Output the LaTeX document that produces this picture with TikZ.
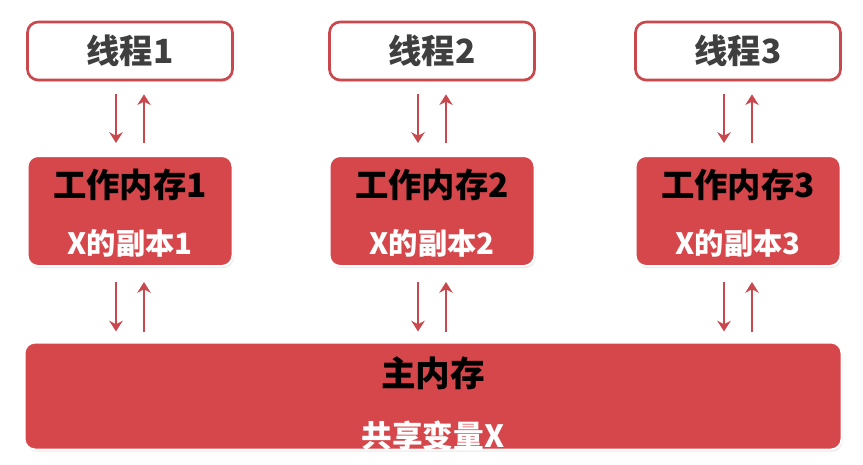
\documentclass[tikz,border=0pt]{standalone}
\usepackage{fontspec}
\setmainfont{Noto Sans CJK SC}
\usetikzlibrary{arrows.meta,shadows}
\definecolor{memred}{HTML}{D6474C}
\definecolor{linered}{HTML}{C8484D}
\definecolor{textgray}{HTML}{3F3F3F}
\tikzset{
  boxshadow/.style={drop shadow={opacity=0.18,shadow xshift=0.8pt,shadow yshift=-1.6pt}},
  threadbox/.style={draw=linered,line width=2pt,fill=white,rounded corners=8pt,minimum width=153.75pt,minimum height=43.5pt,boxshadow},
  membox/.style={draw=white,line width=1.5pt,fill=memred,rounded corners=8pt,boxshadow},
  titletext/.style={font=\bfseries\fontsize{25}{29}\selectfont},
  subtext/.style={text=white,font=\bfseries\fontsize{22}{26}\selectfont},
  arr/.style={linered,line width=2.2pt,-{Stealth[length=8pt,width=10pt,inset=2.5pt]}}
}
\begin{document}
\begin{tikzpicture}[x=0.75pt,y=-0.75pt]
\useasboundingbox (0,0) rectangle (863,464);
\foreach \i/\x in {1/130,2/432,3/738} {
  \node[threadbox,titletext,text=textgray] (t\i) at (\x,51) {线程\i};
  \node[membox,minimum width=153.75pt,minimum height=82.5pt] (w\i) at (\x,211) {};
  \node[titletext] (wt\i) at (\x,185) {工作内存\i};
  \node[subtext] (ws\i) at (\x,243) {X的副本\i};
}
\node[membox,minimum width=612.75pt,minimum height=80.25pt] (m) at (433,396) {};
\node[titletext,font=\bfseries\fontsize{26}{30}\selectfont] (mt) at (433,373) {主内存};
\node[subtext,font=\bfseries\fontsize{23}{27}\selectfont] (ms) at (433,436) {共享变量X};
\foreach \i in {1,2,3} {
  \draw[arr,shorten <=9.75pt,shorten >=9pt] ([xshift=-10.5pt]t\i.south) -- ([xshift=-10.5pt]w\i.north);
  \draw[arr,shorten <=9pt,shorten >=9.75pt] ([xshift=10.5pt]w\i.north) -- ([xshift=10.5pt]t\i.south);
  \draw[arr,shorten <=11.25pt,shorten >=7.5pt] ([xshift=-10.5pt]w\i.south) -- ([xshift=-10.5pt]w\i.south |- m.north);
  \draw[arr,shorten <=7.5pt,shorten >=11.25pt] ([xshift=10.5pt]w\i.south |- m.north) -- ([xshift=10.5pt]w\i.south);
}
\end{tikzpicture}
\end{document}
